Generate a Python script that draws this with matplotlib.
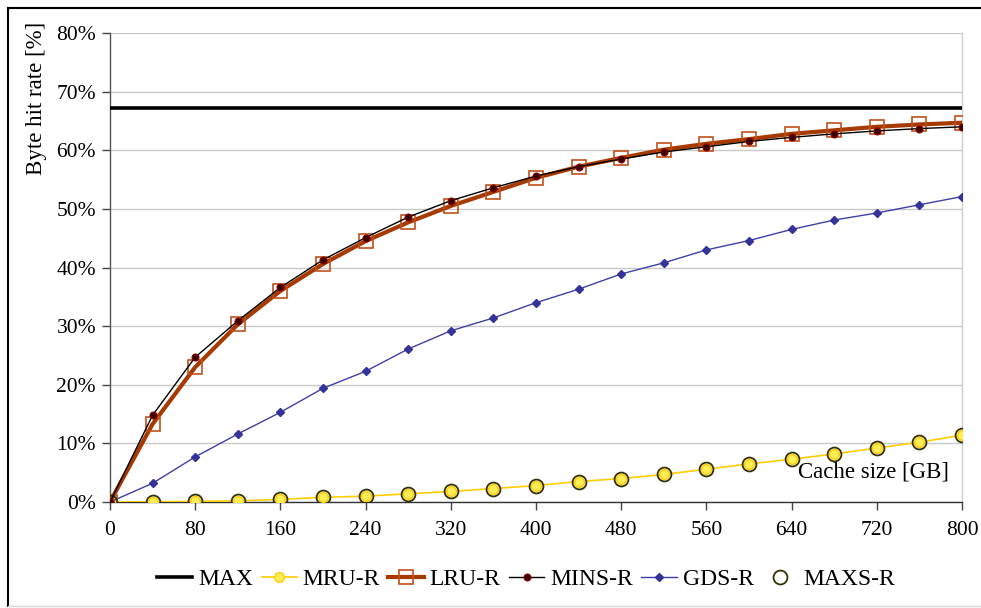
import matplotlib
matplotlib.use("Agg")
import matplotlib.pyplot as plt
from matplotlib.lines import Line2D

plt.rcParams["font.family"] = ["Liberation Serif", "DejaVu Serif"]

# ==========================
# Data
# ==========================

cache_gb = [0, 40, 80, 120, 160, 200, 240, 280, 320, 360, 400,
            440, 480, 520, 560, 600, 640, 680, 720, 760, 800]

max_rate = [67.2] * len(cache_gb)

mru_r = [0.0, 0.05, 0.1, 0.2, 0.45, 0.8, 1.0, 1.4, 1.8, 2.3, 2.8,
         3.5, 4.0, 4.7, 5.6, 6.5, 7.3, 8.2, 9.2, 10.2, 11.4]

lru_r = [0.0, 13.3, 23.0, 30.3, 36.0, 40.6, 44.5, 47.7, 50.5, 52.9, 55.3,
         57.2, 58.7, 60.1, 61.1, 61.9, 62.8, 63.4, 64.0, 64.4, 64.7]

mins_r = [0.0, 14.8, 24.7, 30.9, 36.6, 41.3, 45.1, 48.6, 51.4, 53.6, 55.6,
          57.2, 58.5, 59.7, 60.6, 61.5, 62.2, 62.8, 63.3, 63.7, 64.0]

gds_r = [0.0, 3.2, 7.7, 11.6, 15.3, 19.4, 22.3, 26.1, 29.2, 31.4, 34.0,
         36.3, 38.9, 40.8, 43.0, 44.6, 46.5, 48.1, 49.3, 50.7, 52.1]

maxs_r = mru_r

x_ticks = [0, 80, 160, 240, 320, 400, 480, 560, 640, 720, 800]
y_ticks = [0, 10, 20, 30, 40, 50, 60, 70, 80]


# ==========================
# Figure
# ==========================

fig = plt.figure(figsize=(9.81, 6.08), dpi=100)
ax = fig.add_axes([0.1121, 0.1743, 0.8685, 0.7714])

ax.plot(cache_gb, max_rate, color="black", lw=2.6, label="MAX", zorder=3)

ax.plot(cache_gb, mru_r, color="#FFCC00", lw=1.2,
        marker="o", ms=7, mfc="#FFEE55", mec="#FFCC00", mew=1.0,
        label="MRU-R", zorder=4)

ax.plot(cache_gb, lru_r, color="#A63A00", lw=3.0,
        marker="s", ms=10, mfc="none", mec="#C0501A", mew=1.2,
        label="LRU-R", zorder=5)

ax.plot(cache_gb, mins_r, color="black", lw=1.0,
        marker="o", ms=5, mfc="#3A0000", mec="#8B0000", mew=0.8,
        label="MINS-R", zorder=6)

ax.plot(cache_gb, gds_r, color="#3F3FA8", lw=1.0,
        marker="D", ms=4.5, mfc="#333399", mec="#333399",
        label="GDS-R", zorder=4)

ax.plot(cache_gb, maxs_r, ls="none",
        marker="o", ms=10, mfc="none", mec="#333300", mew=1.3,
        label="MAXS-R", zorder=5)

ax.set_xlim(0, 800)
ax.set_ylim(0, 80)
ax.set_xticks(x_ticks)
ax.set_yticks(y_ticks)
ax.set_yticklabels([f"{v}%" for v in y_ticks])
ax.tick_params(axis="both", direction="out", length=6, width=1,
               color="#444444", labelsize=15.5, pad=4)
ax.tick_params(axis="x", pad=8)

ax.grid(axis="y", color="#C8C8C8", lw=1)
ax.set_axisbelow(True)
ax.spines["top"].set_visible(False)
ax.spines["right"].set_color("#D0D0D0")
ax.spines["left"].set_color("#555555")
ax.spines["bottom"].set_color("#333333")
for s in ax.spines.values():
    s.set_linewidth(1)

ax.text(0.985, 0.065, "Cache size [GB]", transform=ax.transAxes,
        ha="right", va="center", fontsize=16.5)

fig.text(37 / 981, 1 - 98 / 608, "Byte hit rate [%]", rotation=90,
         ha="center", va="center", fontsize=16.5)

ax.legend(loc="center", bbox_to_anchor=(526 / 981, (608 - 579) / 608),
          bbox_transform=fig.transFigure, ncol=6, frameon=False,
          fontsize=17, handlelength=1.5, handletextpad=0.25,
          columnspacing=0.35)

# outer frame
fig.add_artist(Line2D([8 / 981, 8 / 981], [2 / 608, 1 - 8 / 608],
                      transform=fig.transFigure, color="black", lw=1.5))
fig.add_artist(Line2D([8 / 981, 1.0], [1 - 8 / 608, 1 - 8 / 608],
                      transform=fig.transFigure, color="black", lw=1.5))
fig.add_artist(Line2D([8 / 981, 1.0], [2 / 608, 2 / 608],
                      transform=fig.transFigure, color="#D8D8D8", lw=1))

fig.savefig("out.png", dpi=100)
